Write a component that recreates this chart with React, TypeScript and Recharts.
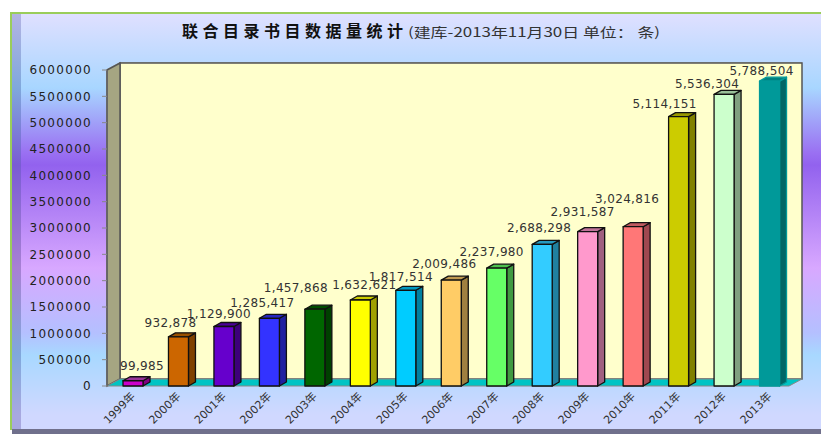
import { Bar, BarChart, CartesianGrid, LabelList, XAxis, YAxis, usePlotArea } from "recharts";

const years = ["1999年", "2000年", "2001年", "2002年", "2003年", "2004年", "2005年", "2006年", "2007年", "2008年", "2009年", "2010年", "2011年", "2012年", "2013年"];
const counts = [99985, 932878, 1129900, 1285417, 1457868, 1632621, 1817514, 2009486, 2237980, 2688298, 2931587, 3024816, 5114151, 5536304, 5788504];
const yTicks = [0, 500000, 1000000, 1500000, 2000000, 2500000, 3000000, 3500000, 4000000, 4500000, 5000000, 5500000, 6000000];

const fronts = ["#CC00CC", "#CC6600", "#6600CC", "#3333FF", "#006600", "#FFFF00", "#00CCFF", "#FFCC66", "#66FF66", "#33CCFF", "#FF99CC", "#FF7777", "#CCCC00", "#CCFFCC", "#009999"];
const sides = ["#800080", "#7F4000", "#3D007A", "#2020A0", "#004000", "#A0A000", "#0080A0", "#A08040", "#409940", "#2080A0", "#A06080", "#A04850", "#808000", "#80A080", "#006666"];
const tops = ["#993399", "#995000", "#4D0099", "#2626C0", "#004D00", "#CCCC00", "#0099C0", "#C09950", "#4DC04D", "#2699C0", "#C07399", "#C05A60", "#999900", "#99C099", "#008080"];

// data labels in the original sit off-centre, each by its own amount
const labelDx = [9, -8, -5, -7, -19, 4, -5, -7, -5, -3, -5, -6, -14, -17, -8];
const labelDy = [-11, -10, -8.5, -11, -17, -11, -9, -12, -12, -12, -16, -24, -9, -6, -6];

const data = years.map((year, i) => ({ year, count: counts[i] }));
const fontFamily = "'DejaVu Sans', 'Noto Sans CJK SC', sans-serif";
const wallDx = 13;
const wallDy = 7;
const barDx = 7;
const barDy = 4;

function Walls() {
  const plot = usePlotArea();
  if (!plot) return null;
  const left = plot.x;
  const right = plot.x + plot.width - 3;
  const top = plot.y;
  const bottom = plot.y + plot.height;
  return (
    <g>
      <rect x={left + wallDx} y={top - wallDy} width={right - left} height={plot.height} fill="#FFFFCC" stroke="#555" strokeWidth={1.5} />
      <polygon points={`${left},${top} ${left + wallDx},${top - wallDy} ${left + wallDx},${bottom - wallDy} ${left},${bottom}`} fill="#A5A582" stroke="#555" strokeWidth={1.5} />
      <polygon points={`${left},${bottom} ${left + wallDx},${bottom - wallDy} ${right + wallDx},${bottom - wallDy} ${right},${bottom}`} fill="#00C4C4" stroke="#888" strokeWidth={1} />
    </g>
  );
}

function GridLine(props: any) {
  const { x1, x2, y1 } = props;
  return (
    <g key={props.key} stroke="#A8A898" strokeWidth={1.5} fill="none">
      <line x1={x1} y1={y1} x2={x1 + wallDx} y2={y1 - wallDy} />
      <line x1={x1 + wallDx} y1={y1 - wallDy} x2={x2 - 3 + wallDx} y2={y1 - wallDy} />
    </g>
  );
}

function Box(props: any) {
  const { x, y, width, height, index } = props;
  const stroke = index === fronts.length - 1 ? fronts[index] : "#111";
  const r = x + width;
  const b = y + height;
  return (
    <g stroke={stroke} strokeWidth={1.3} strokeLinejoin="round">
      <polygon points={`${r},${y} ${r + barDx},${y - barDy} ${r + barDx},${b - barDy} ${r},${b}`} fill={sides[index]} />
      <polygon points={`${x},${y} ${x + barDx},${y - barDy} ${r + barDx},${y - barDy} ${r},${y}`} fill={tops[index]} />
      <rect x={x} y={y} width={width} height={height} fill={fronts[index]} />
    </g>
  );
}

function ValueLabel(props: any) {
  const { x, y, width, value, index } = props;
  return (
    <text x={x + width / 2 + labelDx[index]} y={y + labelDy[index]} textAnchor="middle" fontFamily={fontFamily} fontSize={12} letterSpacing={0.35} fill="#333">
      {value.toLocaleString("en-US")}
    </text>
  );
}

function YearTick(props: any) {
  const { x, y, payload } = props;
  return (
    <text x={x + 3} y={y + 3} textAnchor="end" fontFamily={fontFamily} fontSize={11} fill="#333" transform={`rotate(-45 ${x + 3} ${y + 3})`}>
      {payload.value}
    </text>
  );
}

export default function App() {
  return (
    <div style={{ position: "absolute", left: 0, top: 0, width: 821, height: 434, background: "#fff", overflow: "hidden" }}>
      <div
        style={{
          position: "absolute",
          left: 11,
          top: 13,
          right: 0,
          height: 417,
          background: "linear-gradient(180deg, #E0E0FF 0px, #A8D6FF 75px, #9A70F2 140px, #9262EE 152px, #D8A8FF 255px, #B4C0FF 320px, #A8D8FF 342px, #D0D8FF 402px)",
        }}
      />
      <div
        style={{
          position: "absolute",
          left: 11,
          top: 13,
          width: 10,
          height: 417,
          background: "linear-gradient(180deg, #B4B4E4 0px, #80A8DC 75px, #7A5CD4 152px, #A880D4 255px, #80A8DC 342px, #A8A8E0 402px)",
        }}
      />
      <div style={{ position: "absolute", left: 10, top: 12, right: 0, height: 2, background: "#9ACD5A" }} />
      <div style={{ position: "absolute", left: 10, top: 12, width: 2, height: 418, background: "#9ACD5A" }} />
      <div style={{ position: "absolute", left: 12, top: 429, right: 0, height: 5, background: "#70708C" }} />
      <div style={{ position: "absolute", left: 0, top: 0 }}>
        <BarChart width={821} height={434} data={data} margin={{ top: 70, right: 29, bottom: 0, left: 7 }} barSize={20}>
          <Walls />
          <CartesianGrid vertical={false} horizontal={GridLine as any} />
          <XAxis dataKey="year" axisLine={false} tickLine={false} tick={YearTick} interval={0} padding={{ left: 3, right: 0 }} height={48} />
          <YAxis
            width={100}
            domain={[0, 6000000]}
            ticks={yTicks}
            interval={0}
            tickSize={5}
            tickMargin={10}
            axisLine={{ stroke: "#666", strokeWidth: 1.5 }}
            tickLine={{ stroke: "#888" }}
            tick={{ fontFamily, fontSize: 12, fill: "#222", letterSpacing: 1.3 }}
          />
          <Bar dataKey="count" shape={Box} isAnimationActive={false}>
            <LabelList dataKey="count" content={ValueLabel} />
          </Bar>
          <text x={182} y={37} fontFamily="'Noto Sans CJK SC', sans-serif" fontWeight={700} fontSize={16} fill="#111" textLength={221}>
            联合目录书目数据量统计
          </text>
          <text x={408} y={37} fontFamily="'Noto Sans CJK SC', sans-serif" fontSize={13} fill="#333" textLength={252} lengthAdjust="spacingAndGlyphs">
            (建库-2013年11月30日 单位： 条)
          </text>
        </BarChart>
      </div>
    </div>
  );
}
